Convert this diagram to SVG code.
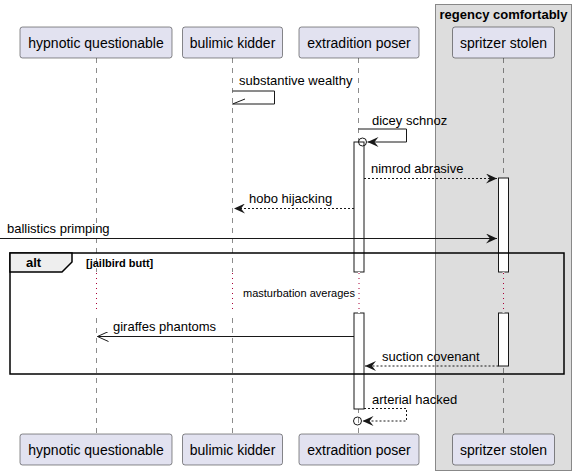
<svg xmlns="http://www.w3.org/2000/svg" width="576" height="475" viewBox="0 0 576 475">
<style>
.part rect{fill:#E2E2F0;stroke:#181818;stroke-width:0.5}
.part text{font-family:"Liberation Sans",Arial,sans-serif;font-size:14px;fill:#000;text-anchor:middle}
.life{stroke:#181818;stroke-width:0.5;stroke-dasharray:5,5;fill:none}
.act{fill:#fff;stroke:#181818;stroke-width:1}
.msg{stroke:#181818;stroke-width:1;fill:none}
.dash{stroke-dasharray:2,2}
.lbl{font-family:"Liberation Sans",Arial,sans-serif;font-size:13px;fill:#000}
.delay{stroke:#A80036;stroke-width:1;stroke-dasharray:1,4;fill:none}
</style>
<defs>
<marker id="ah" viewBox="0 0 12 10" refX="11" refY="5" markerWidth="12" markerHeight="10" markerUnits="userSpaceOnUse" orient="auto">
<path d="M0,0 L11,5 L0,10 L4,5 Z" fill="#181818"/>
</marker>
<marker id="open" viewBox="0 0 12 10" refX="11" refY="5" markerWidth="12" markerHeight="10" markerUnits="userSpaceOnUse" orient="auto">
<path d="M0,0 L11,5 L0,10" fill="none" stroke="#181818" stroke-width="1"/>
</marker>
</defs>
<g id="group-regency">
<rect x="435.5" y="4.5" width="136" height="466" fill="#DDDDDD" stroke="#888888" stroke-width="1"/>
<text x="503.5" y="19" font-family="'Liberation Sans',Arial,sans-serif" font-size="13" font-weight="bold" text-anchor="middle">regency comfortably</text>
</g>
<g id="lifelines">
<line class="life" x1="96.5" y1="58" x2="96.5" y2="433"/>
<line class="life" x1="232.5" y1="58" x2="232.5" y2="433"/>
<line class="life" x1="358.5" y1="58" x2="358.5" y2="433"/>
<line class="life" x1="503.5" y1="58" x2="503.5" y2="433"/>
</g>
<g id="p-hypnotic" class="part">
<rect x="20" y="27" width="152" height="31" rx="2.5"/>
<text x="96" y="47.5">hypnotic questionable</text>
<rect x="20" y="434" width="152" height="31" rx="2.5"/>
<text x="96" y="454.5">hypnotic questionable</text>
</g>
<g id="p-bulimic" class="part">
<rect x="182.5" y="27" width="100" height="31" rx="2.5"/>
<text x="232.5" y="47.5">bulimic kidder</text>
<rect x="182.5" y="434" width="100" height="31" rx="2.5"/>
<text x="232.5" y="454.5">bulimic kidder</text>
</g>
<g id="p-extradition" class="part">
<rect x="299" y="27" width="120" height="31" rx="2.5"/>
<text x="359" y="47.5">extradition poser</text>
<rect x="299" y="434" width="120" height="31" rx="2.5"/>
<text x="359" y="454.5">extradition poser</text>
</g>
<g id="p-spritzer" class="part">
<rect x="452.5" y="27" width="102" height="31" rx="2.5"/>
<text x="503.5" y="47.5">spritzer stolen</text>
<rect x="452.5" y="434" width="102" height="31" rx="2.5"/>
<text x="503.5" y="454.5">spritzer stolen</text>
</g>
<g id="activations">
<rect class="act" x="354" y="142" width="10" height="130"/>
<rect class="act" x="354" y="313" width="10" height="96"/>
<rect class="act" x="498.5" y="178" width="10" height="94"/>
<rect class="act" x="498.5" y="313" width="10" height="53"/>
</g>
<g id="alt-frame">
<rect x="10" y="253" width="554" height="121" fill="none" stroke="#000" stroke-width="1.5"/>
<path d="M10,253 L72,253 L72,262 L62,272 L10,272 Z" fill="#EEEEEE" stroke="#000" stroke-width="1.5"/>
<text x="26" y="267" font-family="'Liberation Sans',Arial,sans-serif" font-size="13" font-weight="bold">alt</text>
<text x="86" y="267" font-family="'Liberation Sans',Arial,sans-serif" font-size="11" font-weight="bold">[jailbird butt]</text>
</g>
<g id="delay">
<line x1="96.5" y1="272" x2="96.5" y2="313" stroke="#fff" stroke-width="2"/>
<line x1="232.5" y1="272" x2="232.5" y2="313" stroke="#fff" stroke-width="2"/>
<line x1="359" y1="272" x2="359" y2="313" stroke="#fff" stroke-width="2"/>
<line x1="503.5" y1="272" x2="503.5" y2="313" stroke="#DDDDDD" stroke-width="2"/>
<line class="delay" x1="96.5" y1="273" x2="96.5" y2="313"/>
<line class="delay" x1="232.5" y1="273" x2="232.5" y2="313"/>
<line class="delay" x1="359" y1="273" x2="359" y2="313"/>
<line class="delay" x1="503.5" y1="273" x2="503.5" y2="313"/>
<text x="243" y="297" font-family="'Liberation Sans',Arial,sans-serif" font-size="11">masturbation averages</text>
</g>
<g id="connectors">
<path class="msg" d="M232.5,91 H274.5 V104 H232.5"/>
<path class="msg" d="M232.5,104 L245,99"/>
<text class="lbl" x="239" y="85">substantive wealthy</text>
<path class="msg" d="M358.5,129 H406.5 V142 H367.5" marker-end="url(#ah)"/>
<circle cx="362.5" cy="142" r="4" fill="none" stroke="#181818" stroke-width="1"/>
<text class="lbl" x="372" y="125">dicey schnoz</text>
<line class="msg dash" x1="364" y1="178.5" x2="497" y2="178.5" marker-end="url(#ah)"/>
<text class="lbl" x="371" y="173">nimrod abrasive</text>
<line class="msg dash" x1="354" y1="208.5" x2="234" y2="208.5" marker-end="url(#ah)"/>
<text class="lbl" x="249" y="203">hobo hijacking</text>
<line class="msg" x1="0" y1="238.5" x2="497" y2="238.5" marker-end="url(#ah)"/>
<text class="lbl" x="7" y="233">ballistics primping</text>
<line class="msg" x1="354" y1="336.5" x2="97.5" y2="336.5" marker-end="url(#open)"/>
<text class="lbl" x="113" y="331">giraffes phantoms</text>
<line class="msg dash" x1="498.5" y1="366" x2="365" y2="366" marker-end="url(#ah)"/>
<text class="lbl" x="382" y="361">suction covenant</text>
<path class="msg dash" d="M364,408.5 H406.5 V421 H362.5" marker-end="url(#ah)"/>
<circle cx="357.5" cy="421" r="4" fill="none" stroke="#181818" stroke-width="1"/>
<text class="lbl" x="372" y="404">arterial hacked</text>
</g>
</svg>
